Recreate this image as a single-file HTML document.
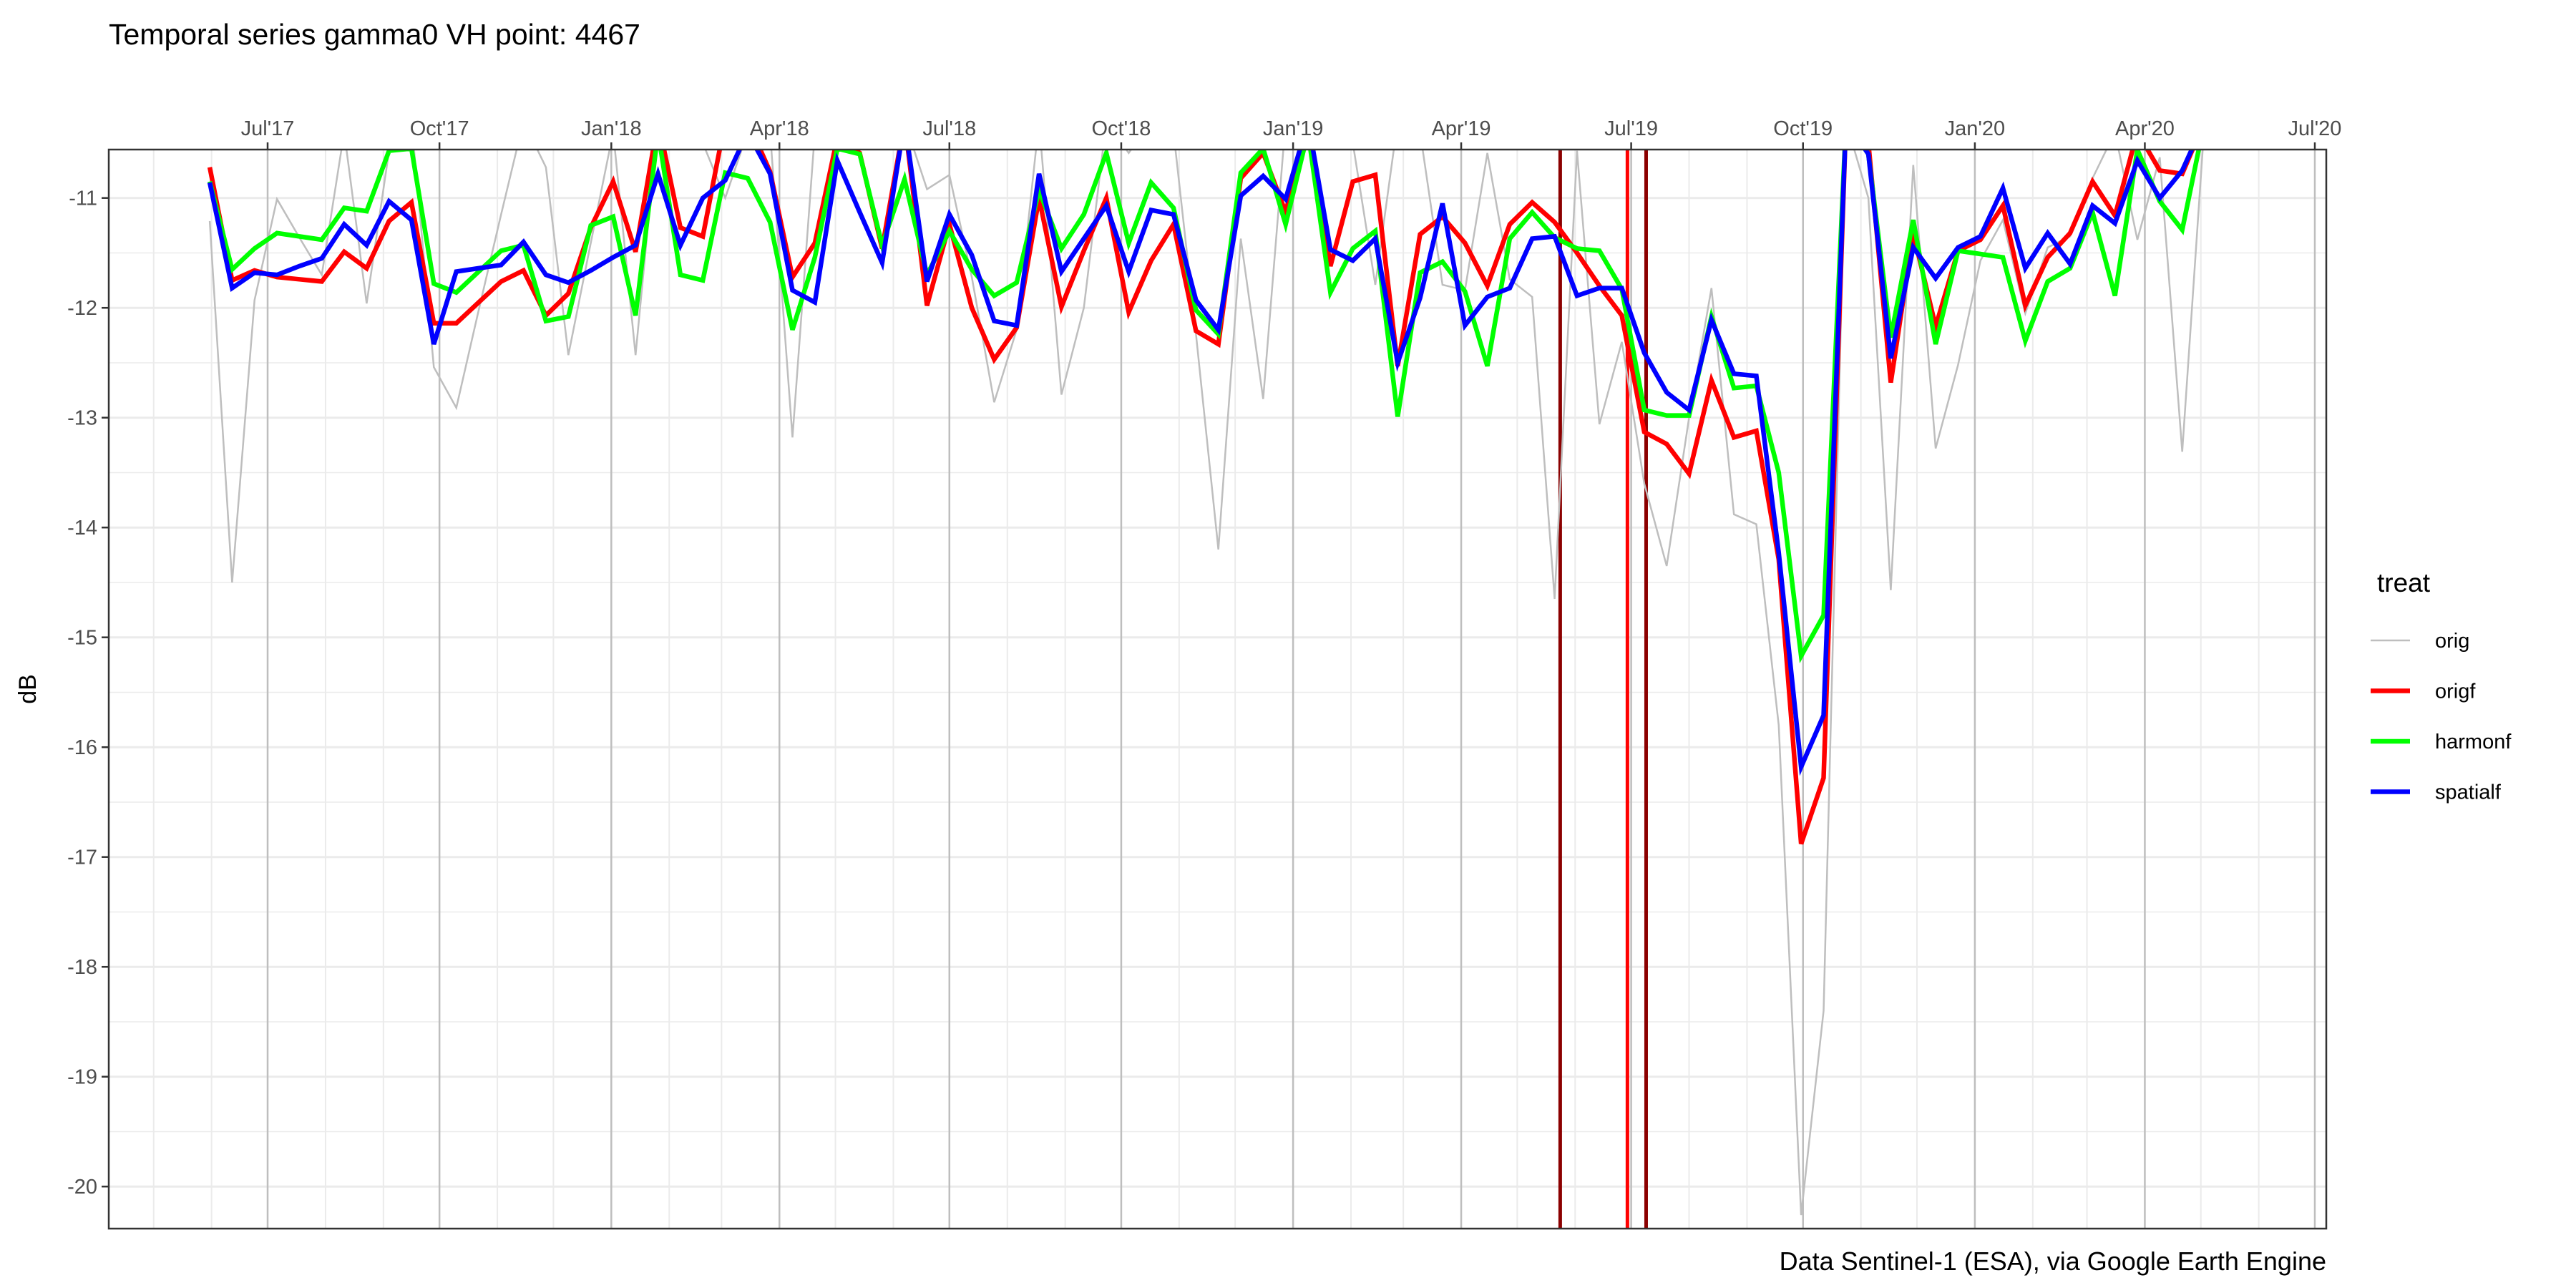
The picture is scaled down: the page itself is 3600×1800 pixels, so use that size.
<!DOCTYPE html>
<html><head><meta charset="utf-8"><style>
html,body{margin:0;padding:0;background:#fff;}
svg{display:block;font-family:"Liberation Sans",sans-serif;}
</style></head><body>
<svg id="chart" width="3600" height="1800" viewBox="0 0 3600 1800" xmlns="http://www.w3.org/2000/svg">
<defs><clipPath id="pclip"><rect x="152" y="209" width="3099" height="1508"/></clipPath></defs>
<rect x="0" y="0" width="3600" height="1800" fill="#fff"/>
<text x="152" y="62" font-size="41" fill="#000">Temporal series gamma0 VH point: 4467</text>
<g id="grid"></g>
<g id="vlines"></g>
<g id="series" clip-path="url(#pclip)"></g>
<rect x="152" y="209" width="3099" height="1508" fill="none" stroke="#333" stroke-width="2.5"/>
<g id="axes"></g>
<text transform="translate(50,963) rotate(-90)" text-anchor="middle" font-size="34" fill="#000">dB</text>
<text x="3251" y="1775" text-anchor="end" font-size="36" fill="#000">Data Sentinel-1 (ESA), via Google Earth Engine</text>
<g id="legend">
<text x="3322" y="827" font-size="37" fill="#000">treat</text>
</g>
</svg>
<script>
const seriesNames = ["orig","origf","harmonf","spatialf"];
const seriesColors = ["#bebebe","#ff0000","#00ff00","#0000ff"];
const startDate = "2017-05-31";
const stepDays = 12;
const orig = [-11.21,-14.5,-11.93,-11.01,-11.36,-11.7,-10.4,-11.96,-10.57,-10.3,-12.54,-12.91,-12.02,-11.15,-10.3,-10.72,-12.43,-11.41,-10.4,-12.43,-10.3,-10.5,-10.5,-11.0,-10.4,-10.4,-13.18,-10.4,-10.3,-10.4,-10.4,-10.3,-10.92,-10.79,-11.72,-12.86,-12.2,-10.3,-12.79,-12.0,-10.3,-10.59,-10.3,-10.4,-12.24,-14.2,-11.37,-12.83,-10.3,-10.3,-10.3,-10.5,-11.79,-10.3,-10.4,-11.79,-11.84,-10.59,-11.74,-11.9,-14.65,-10.57,-13.06,-12.31,-13.6,-14.35,-13.0,-11.82,-13.88,-13.97,-15.8,-20.26,-18.4,-10.3,-11.0,-14.57,-10.7,-13.28,-12.52,-11.57,-11.2,-12.05,-11.45,-11.35,-10.82,-10.4,-11.38,-10.63,-13.31,-10.3];
const origf = [-10.72,-11.75,-11.66,-11.72,-11.74,-11.76,-11.49,-11.64,-11.21,-11.04,-12.14,-12.14,-11.95,-11.76,-11.66,-12.07,-11.87,-11.27,-10.85,-11.49,-10.3,-11.27,-11.35,-10.3,-10.3,-10.76,-11.72,-11.41,-10.45,-10.59,-11.46,-10.3,-11.98,-11.24,-12.0,-12.47,-12.18,-11.0,-11.99,-11.48,-11.0,-12.04,-11.57,-11.24,-12.21,-12.33,-10.82,-10.59,-11.13,-10.3,-11.62,-10.85,-10.79,-12.53,-11.33,-11.17,-11.41,-11.8,-11.24,-11.04,-11.22,-11.5,-11.8,-12.07,-13.13,-13.24,-13.51,-12.66,-13.18,-13.12,-14.29,-16.88,-16.28,-10.3,-10.5,-12.68,-11.32,-12.17,-11.48,-11.38,-11.07,-11.98,-11.54,-11.32,-10.85,-11.16,-10.4,-10.75,-10.78,-10.3];
const harmonf = [-10.85,-11.65,-11.46,-11.32,-11.35,-11.38,-11.09,-11.12,-10.57,-10.55,-11.78,-11.86,-11.67,-11.48,-11.43,-12.12,-12.08,-11.25,-11.17,-12.07,-10.4,-11.7,-11.75,-10.77,-10.82,-11.22,-12.2,-11.54,-10.55,-10.6,-11.43,-10.83,-11.7,-11.3,-11.65,-11.89,-11.77,-10.93,-11.46,-11.15,-10.59,-11.41,-10.86,-11.09,-12.02,-12.24,-10.77,-10.55,-11.24,-10.4,-11.86,-11.46,-11.3,-12.99,-11.68,-11.58,-11.85,-12.53,-11.37,-11.13,-11.36,-11.46,-11.48,-11.83,-12.93,-12.98,-12.98,-12.08,-12.73,-12.71,-13.5,-15.17,-14.8,-10.3,-10.6,-12.27,-11.2,-12.33,-11.48,-11.51,-11.54,-12.3,-11.76,-11.64,-11.13,-11.89,-10.56,-11.03,-11.29,-10.3];
const spatialf = [-10.86,-11.82,-11.68,-11.7,-11.62,-11.55,-11.24,-11.43,-11.03,-11.2,-12.33,-11.67,-11.64,-11.61,-11.4,-11.7,-11.77,-11.66,-11.54,-11.43,-10.78,-11.43,-11.0,-10.84,-10.4,-10.78,-11.84,-11.95,-10.66,-11.13,-11.59,-10.3,-11.76,-11.15,-11.52,-12.12,-12.16,-10.78,-11.67,-11.37,-11.07,-11.67,-11.11,-11.15,-11.93,-12.2,-10.98,-10.8,-11.01,-10.3,-11.47,-11.57,-11.37,-12.5,-11.91,-11.05,-12.16,-11.9,-11.82,-11.37,-11.35,-11.89,-11.82,-11.82,-12.41,-12.77,-12.93,-12.11,-12.6,-12.62,-14.23,-16.18,-15.71,-10.3,-10.6,-12.46,-11.45,-11.73,-11.45,-11.35,-10.91,-11.64,-11.32,-11.6,-11.07,-11.23,-10.66,-11.0,-10.75,-10.3];
const xTickDates = ["2017-07-01","2017-10-01","2018-01-01","2018-04-01","2018-07-01","2018-10-01","2019-01-01","2019-04-01","2019-07-01","2019-10-01","2020-01-01","2020-04-01","2020-07-01"];
const xTickLabels = ["Jul'17","Oct'17","Jan'18","Apr'18","Jul'18","Oct'18","Jan'19","Apr'19","Jul'19","Oct'19","Jan'20","Apr'20","Jul'20"];
const yTicks = [-11,-12,-13,-14,-15,-16,-17,-18,-19,-20];
const eventDates = ["2019-05-24","2019-06-29","2019-07-09"];
const eventColors = ["#8b0000","#ff0000","#8b0000"];

const NS="http://www.w3.org/2000/svg";
const DAY=86400000;
const x0Date=Date.UTC(2017,6,1);
function dayOf(s){const p=s.split("-");return (Date.UTC(+p[0],+p[1]-1,+p[2])-x0Date)/DAY;}
function xScale(d){return 374+d*2.6104;}
function yScale(v){return 276.7+(-11-v)*153.5;}
function mk(tag,attrs,parent){const e=document.createElementNS(NS,tag);for(const k in attrs)e.setAttribute(k,attrs[k]);parent.appendChild(e);return e;}
const grid=document.getElementById("grid"),axes=document.getElementById("axes"),ser=document.getElementById("series"),vl=document.getElementById("vlines"),leg=document.getElementById("legend");
const L=152,R=3251,T=209,B=1717;
for(let v=-10.5;v>=-20.5;v-=0.5){const y=yScale(v);if(y<T||y>B)continue;const major=Number.isInteger(v);
 const l=mk("line",{x1:L,x2:R,y1:y,y2:y,stroke:"#ebebeb","stroke-width":major?3:1.5},grid);
 
 }
for(let m=-2;m<=37;m++){const d=(Date.UTC(2017,6+m,1)-x0Date)/DAY;const x=xScale(d);if(x<L||x>R)continue;
 const l=mk("line",{x1:x,x2:x,y1:T,y2:B,stroke:"#ebebeb","stroke-width":2},grid);
 
 }
xTickDates.forEach((s,i)=>{const x=xScale(dayOf(s));
 const l=mk("line",{x1:x,x2:x,y1:T,y2:B,stroke:"#bebebe","stroke-width":2.5},grid);
 
 
 const t=mk("line",{x1:x,x2:x,y1:T,y2:T-10,stroke:"#333","stroke-width":2.5},axes);
 
 
 const tx=mk("text",{x:x,y:T-20,"text-anchor":"middle","font-size":29,fill:"#4d4d4d"},axes);
 tx.textContent=xTickLabels[i];
 
 });
yTicks.forEach(v=>{const y=yScale(v);
 const t=mk("line",{x1:L,x2:L-10,y1:y,y2:y,stroke:"#333","stroke-width":2.5},axes);
 
 
 const tx=mk("text",{x:L-16,y:y+10,"text-anchor":"end","font-size":29,fill:"#4d4d4d"},axes);
 tx.textContent=String(v);
 
 });
eventDates.forEach((s,i)=>{const x=xScale(dayOf(s));
 const l=mk("line",{x1:x,x2:x,y1:T,y2:B,stroke:eventColors[i],"stroke-width":5},vl);
 
 });
const all=[orig,origf,harmonf,spatialf];const sd=dayOf(startDate);
all.forEach((arr,k)=>{const pts=arr.map((v,i)=>xScale(sd+i*stepDays).toFixed(1)+","+yScale(v).toFixed(1)).join(" ");
 const p=mk("polyline",{points:pts,fill:"none",stroke:seriesColors[k],"stroke-width":k==0?2.5:6.5,"stroke-linejoin":"miter","stroke-miterlimit":4},ser);
 
 
 const ly=895+k*70.5;
 const kl=mk("line",{x1:3313,x2:3368,y1:ly,y2:ly,stroke:seriesColors[k],"stroke-width":k==0?2.5:6.5},leg);
 
 
 const lt=mk("text",{x:3403,y:ly+10,"font-size":29,fill:"#000"},leg);
 lt.textContent=seriesNames[k];
 
 });
</script>
</body></html>
